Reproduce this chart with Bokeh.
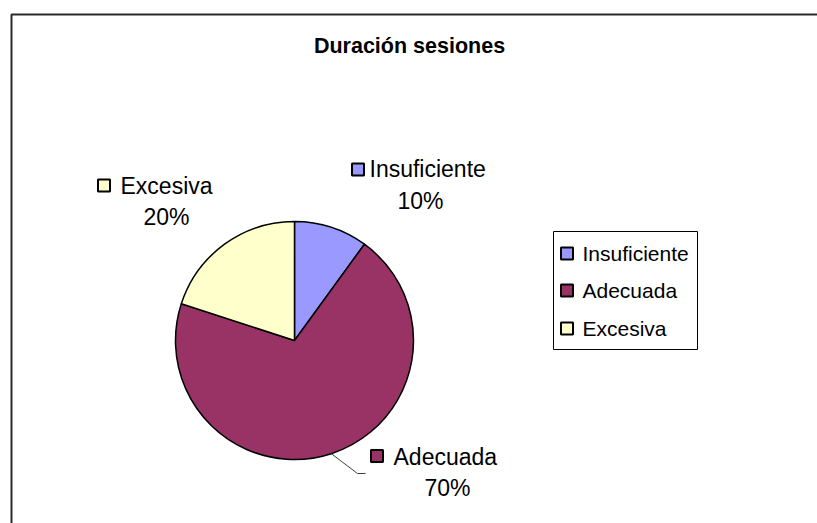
import math
from bokeh.plotting import figure
from bokeh.models import Range1d, ColumnDataSource
from bokeh.core.properties import value
from bokeh.embed import file_html
from bokeh.resources import INLINE

# ---- data ----
title_text = "Duración sesiones"
categories = ["Insuficiente", "Adecuada", "Excesiva"]
values = [10, 70, 20]
colors = ["#9999FF", "#993366", "#FFFFCC"]

W, H = 817, 523


def Y(py):
    # screen pixel y -> data y
    return H - py


FONT = value("Liberation Sans")

p = figure(width=W, height=H, output_backend="svg", toolbar_location=None,
           x_range=Range1d(0, W), y_range=Range1d(0, H),
           min_border=0, outline_line_color=None)
p.axis.visible = False
p.grid.visible = False
p.background_fill_color = "white"
p.border_fill_color = "white"

# chart area border (left and top edges visible in the crop)
p.line([11, 11, 817], [Y(523), Y(14), Y(14)], line_color="#2a2a2a", line_width=2)

# title
p.text(x=[409], y=[Y(45)], text=[title_text], text_font=FONT,
       text_font_size="21.5px", text_font_style="bold", text_align="center",
       text_baseline="middle", text_color="black")

# pie
cx, cy, r = 294, 340, 119
total = float(sum(values))
starts, ends, mids = [], [], []
cum = 0.0
for v in values:
    a0 = math.pi / 2 - 2 * math.pi * cum / total
    cum += v
    a1 = math.pi / 2 - 2 * math.pi * cum / total
    starts.append(a0)
    ends.append(a1)
    mids.append((a0 + a1) / 2)

src = ColumnDataSource(dict(cat=categories, val=values, color=colors,
                            start=starts, end=ends))
p.wedge(x=cx, y=Y(cy), radius=r, start_angle="start", end_angle="end",
        direction="clock", fill_color="color", line_color="black",
        line_width=1.5, source=src)

# leader line for Adecuada
m = mids[1]
lx0 = cx + r * math.cos(m)
ly0 = Y(cy) + r * math.sin(m)
p.line([lx0, 357, 365], [ly0, Y(473), Y(473)], line_color="#404040", line_width=1)

# data labels (layout positions: cap centre)
lab_sq = [(357.5, 169), (376.5, 455.5), (103.5, 185)]
lab_txt = [(369, 168), (393, 456), (120, 185)]
lab_pct = [(420, 200), (447, 487), (166, 216)]
pcts = ["%d%%" % round(v / total * 100) for v in values]

p.scatter(x=[s[0] for s in lab_sq], y=[Y(s[1]) for s in lab_sq], marker="square",
          size=12, fill_color=colors, line_color="black", line_width=2)
p.text(x=[t[0] for t in lab_txt], y=[Y(t[1]) for t in lab_txt], text=categories,
       text_font=FONT, text_font_size="23px", text_align="left",
       text_baseline="middle", text_color="black")
p.text(x=[t[0] for t in lab_pct], y=[Y(t[1]) for t in lab_pct], text=pcts,
       text_font=FONT, text_font_size="23px", text_align="center",
       text_baseline="middle", text_color="black")

# legend box
bx0, by0, bx1, by1 = 553, 231, 697, 349
p.quad(left=[bx0], right=[bx1], top=[Y(by0)], bottom=[Y(by1)],
       fill_color="white", line_color="black", line_width=1)
leg_y = [253, 290, 328]
p.scatter(x=[566.5] * 3, y=[Y(v) for v in leg_y], marker="square", size=12,
          fill_color=colors, line_color="black", line_width=2)
p.text(x=[582] * 3, y=[Y(v) for v in leg_y], text=categories,
       text_font=FONT, text_font_size="21px", text_align="left",
       text_baseline="middle", text_color="black")

open("out.html", "w").write(file_html(p, INLINE))
